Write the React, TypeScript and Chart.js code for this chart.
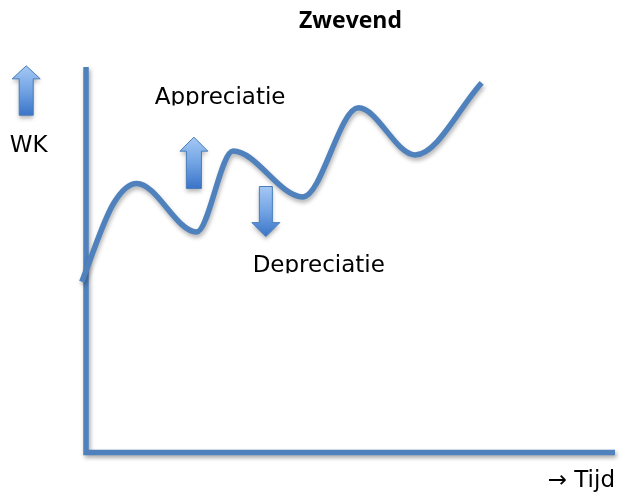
import React, { useEffect, useRef } from "react";
import { Chart, registerables } from "chart.js";

Chart.register(...registerables);

// Curve: time (x) vs. exchange value WK (y), arbitrary units 0..100
const timeValues = [-0.8, 5.2, 9.6, 20.9, 27.8, 41.0, 51.5, 62.2, 74.8];
const wkValues = [44.3, 64.6, 69.8, 57.2, 78.2, 66.3, 89.4, 77.2, 95.9];

// Text annotations (data units)
const labelTexts = ["WK", "Appreciatie", "Depreciatie", "\u2192 Tijd"];
const labelX = [-14.4, 13.0, 31.5, 100];
const labelY = [77.9, 90.4, 46.9, -8.9];

// Block arrows (data units): centre x, tail y, tip y
const arrowX = [-11.3, 20.4, 34.0];
const arrowTailY = [87.5, 68.5, 69.0];
const arrowTipY = [100.3, 81.8, 56.0];

const BLUE = "#4f81bd";

const decorPlugin = {
  id: "decor",
  beforeDatasetsDraw(chart: any) {
    const { ctx, scales } = chart;
    const xs = scales.x;
    const ys = scales.y;
    const x0 = xs.getPixelForValue(0);
    const x1 = xs.getPixelForValue(100);
    const y0 = ys.getPixelForValue(0);
    const y1 = ys.getPixelForValue(100);
    // axes
    ctx.save();
    ctx.shadowColor = "rgba(0,0,0,0.35)";
    ctx.shadowBlur = 4;
    ctx.shadowOffsetX = 1.5;
    ctx.shadowOffsetY = 2.5;
    ctx.strokeStyle = BLUE;
    ctx.lineWidth = 5.5;
    ctx.lineJoin = "miter";
    ctx.lineCap = "butt";
    ctx.beginPath();
    ctx.moveTo(x0, y1);
    ctx.lineTo(x0, y0);
    ctx.lineTo(x1, y0);
    ctx.stroke();
    ctx.restore();

    // arrows
    const sizes = [
      { head: 28, shaft: 14, len: 13 },
      { head: 28, shaft: 15, len: 14 },
      { head: 28, shaft: 13, len: 14 },
    ];
    arrowX.forEach((ax, i) => {
      const cx = xs.getPixelForValue(ax);
      const tail = ys.getPixelForValue(arrowTailY[i]);
      const tip = ys.getPixelForValue(arrowTipY[i]);
      const dir = tip < tail ? 1 : -1;
      const s = sizes[i];
      const hb = tip + dir * s.len;
      const top = Math.min(tip, tail);
      const bot = Math.max(tip, tail);
      ctx.save();
      const g = ctx.createLinearGradient(0, top, 0, bot);
      g.addColorStop(0, "#a4c8f4");
      g.addColorStop(0.5, "#72a4e4");
      g.addColorStop(1, "#3a74c8");
      ctx.beginPath();
      ctx.moveTo(cx, tip);
      ctx.lineTo(cx + s.head / 2, hb);
      ctx.lineTo(cx + s.shaft / 2, hb);
      ctx.lineTo(cx + s.shaft / 2, tail);
      ctx.lineTo(cx - s.shaft / 2, tail);
      ctx.lineTo(cx - s.shaft / 2, hb);
      ctx.lineTo(cx - s.head / 2, hb);
      ctx.closePath();
      ctx.shadowColor = "rgba(0,0,0,0.3)";
      ctx.shadowBlur = 4;
      ctx.shadowOffsetY = 3;
      ctx.fillStyle = g;
      ctx.fill();
      ctx.shadowColor = "transparent";
      ctx.strokeStyle = "#4a7ebb";
      ctx.lineWidth = 1;
      ctx.stroke();
      ctx.restore();
    });

    // curve shadow for dataset drawing
    ctx.save();
    ctx.shadowColor = "rgba(0,0,0,0.3)";
    ctx.shadowBlur = 4;
    ctx.shadowOffsetX = 1;
    ctx.shadowOffsetY = 3;
  },
  afterDatasetsDraw(chart: any) {
    const { ctx, scales } = chart;
    ctx.restore();
    const xs = scales.x;
    const ys = scales.y;
    labelTexts.forEach((t, i) => {
      const px = xs.getPixelForValue(labelX[i]);
      const py = ys.getPixelForValue(labelY[i]);
      ctx.save();
      if (i === 1 || i === 2) {
        ctx.beginPath();
        ctx.rect(0, 0, chart.width, py + 1.5);
        ctx.clip();
      }
      ctx.fillStyle = "#000";
      ctx.font = "23px 'DejaVu Sans'";
      ctx.textBaseline = "alphabetic";
      ctx.textAlign = i === 3 ? "right" : "left";
      ctx.fillText(t, px, py);
      ctx.restore();
    });
  },
};

export default function App() {
  const ref = useRef<HTMLCanvasElement | null>(null);
  useEffect(() => {
    if (!ref.current) return;
    const chart = new Chart(ref.current, {
      type: "line",
      data: {
        datasets: [
          {
            data: timeValues.map((x, i) => ({ x, y: wkValues[i] })),
            borderColor: BLUE,
            borderWidth: 5.5,
            pointRadius: 0,
            cubicInterpolationMode: "monotone",
            clip: false as any,
            fill: false,
          },
        ],
      },
      options: {
        animation: false,
        responsive: false,
        events: [],
        layout: { padding: { left: 86, right: 6, bottom: 44.5, top: 0 } },
        scales: {
          x: { type: "linear", min: 0, max: 100, display: false },
          y: { type: "linear", min: 0, max: 100, display: false },
        },
        plugins: {
          legend: { display: false },
          tooltip: { enabled: false },
          title: {
            display: true,
            text: "Zwevend",
            fullSize: false,
            color: "#000",
            font: { family: "'Open Sans'", size: 23, weight: "bold", lineHeight: 1.2 },
            padding: { top: 8, bottom: 31.4 },
          },
        },
      },
      plugins: [decorPlugin],
    });
    return () => chart.destroy();
  }, []);
  return (
    <div style={{ position: "absolute", left: 0, top: 0, width: 621, height: 497, background: "#fff" }}>
      <canvas ref={ref} width={621} height={497} />
    </div>
  );
}
